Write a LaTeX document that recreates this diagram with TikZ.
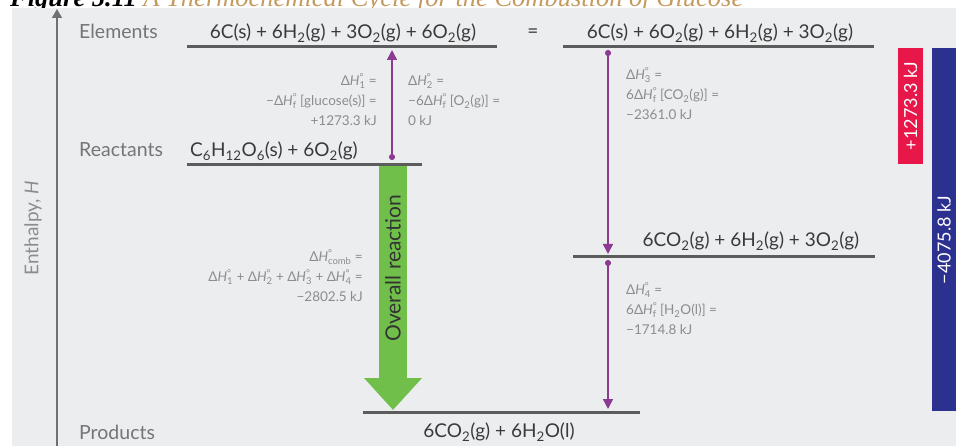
\documentclass[tikz,border=0pt]{standalone}
\usepackage{fontspec}
\setmainfont{Lato}
\newfontfamily\capfont{Liberation Serif}
\usetikzlibrary{arrows.meta,positioning}
\definecolor{panelgray}{HTML}{ECEDEF}
\definecolor{levelgray}{HTML}{5C5C5C}
\definecolor{axisgray}{HTML}{707070}
\definecolor{notegray}{HTML}{8C8C8C}
\definecolor{eqngray}{HTML}{3A3A3A}
\definecolor{steppurple}{HTML}{8C3A92}
\definecolor{overallgreen}{HTML}{70BF4A}
\definecolor{sumred}{HTML}{E8174A}
\definecolor{sumblue}{HTML}{2C3190}
\definecolor{captan}{HTML}{C49A5E}
\newcommand{\ssub}[1]{\textsubscript{#1}}
\newcommand{\dH}[1]{Δ\textit{H}\makebox[0pt][l]{\textsuperscript{°}}\textsubscript{#1}}

\begin{document}
\begin{tikzpicture}[x=1pt,y=-1pt,
  level/.style={draw=levelgray, line width=3pt},
  eqn/.style={font=\fontsize{19}{22}\selectfont, text=eqngray, inner sep=0pt},
  rowlabel/.style={font=\fontsize{19.5}{22}\selectfont, text=levelgray!85, anchor=west, inner sep=0pt},
  note/.style={font=\fontsize{13.5}{20}\selectfont, text=notegray, inner sep=0pt},
  stepline/.style={draw=steppurple, line width=1.6pt, {Circle[length=6pt]}-{Triangle[length=10pt,width=10pt]}},
  overall/.style={draw=overallgreen, line width=28pt, -{Triangle[length=32pt,width=56pt]}},
  sumtext/.style={font=\fontsize{18}{20}\selectfont, text=white, rotate=90, inner sep=0pt}]
\useasboundingbox (0,0) rectangle (956,446);
\clip (0,0) rectangle (956,446);
% caption, cut at the top
\node[anchor=base west, font=\capfont\fontsize{26.5}{28}\selectfont, inner sep=0pt] (caption) at (10,7)
  {\textbf{\textit{Figure 5.11}} \textcolor{captan}{\textit{A Thermochemical Cycle for the Combustion of Glucose}}};
\fill[panelgray] (12,8) rectangle (956,446);
% enthalpy axis
\coordinate (axis-foot) at (57,446);
\coordinate (axis-top) at (57,9);
\draw[axisgray, line width=1.5pt, -{Triangle[length=9pt,width=10pt]}] (axis-foot) -- (axis-top);
\node[font=\fontsize{19}{22}\selectfont, text=notegray, rotate=90] (axis-label) at (33,228) {Enthalpy, \textit{H}};
% row labels
\node[rowlabel] (lab-elem) at (79,31) {Elements};
\node[rowlabel] (lab-reac) at (79,150) {Reactants};
\node[rowlabel] (lab-prod) at (79,432) {Products};
% levels
\coordinate (elemA-w) at (187,47);  \coordinate (elemA-e) at (497,47);
\coordinate (elemB-w) at (563,47);  \coordinate (elemB-e) at (874,47);
\coordinate (reac-w) at (187,165);  \coordinate (reac-e) at (422,165);
\coordinate (mid-w) at (573,257);   \coordinate (mid-e) at (875,257);
\coordinate (prod-w) at (363,412);  \coordinate (prod-e) at (640,412);
\draw[level] (elemA-w) -- (elemA-e);
\draw[level] (elemB-w) -- (elemB-e);
\draw[level] (reac-w) -- (reac-e);
\draw[level] (mid-w) -- (mid-e);
\draw[level] (prod-w) -- (prod-e);
\node[eqn] (elemA) at (343,33) {6C(s) + 6H\ssub{2}(g) + 3O\ssub{2}(g) + 6O\ssub{2}(g)};
\node[eqn] (equal) at (533,33) {=};
\node[eqn] (elemB) at (720,33) {6C(s) + 6O\ssub{2}(g) + 6H\ssub{2}(g) + 3O\ssub{2}(g)};
\node[eqn, anchor=west] (reac) at (190,151) {C\ssub{6}H\ssub{12}O\ssub{6}(s) + 6O\ssub{2}(g)};
\node[eqn] (mid) at (751,241) {6CO\ssub{2}(g) + 6H\ssub{2}(g) + 3O\ssub{2}(g)};
\node[eqn] (prod) at (499,432) {6CO\ssub{2}(g) + 6H\ssub{2}O(l)};
% overall reaction
\coordinate (overall-top) at (393,166);
\coordinate (overall-tip) at (393,410);
\draw[overall] (overall-top) -- (overall-tip);
\node[font=\fontsize{21}{24}\selectfont, text=black!80, rotate=90] (overall-label) at (393,268) {Overall reaction};
% steps
\coordinate (step1-foot) at (392,160); \coordinate (step1-tip) at (392,50);
\coordinate (step3-foot) at (608,50);  \coordinate (step3-tip) at (608,254);
\coordinate (step4-foot) at (608,260); \coordinate (step4-tip) at (608,409);
\draw[stepline] (step1-foot) -- (step1-tip);
\draw[stepline] (step3-foot) -- (step3-tip);
\draw[stepline] (step4-foot) -- (step4-tip);
\node[note, anchor=east, align=right] (dH1) at (377,100)
  {\dH{1} =\\−\dH{f} [glucose(s)] =\\+1273.3 kJ};
\node[note, anchor=west, align=left] (dH2) at (408,100)
  {\dH{2} =\\−6\dH{f} [O\ssub{2}(g)] =\\0 kJ};
\node[note, anchor=west, align=left] (dH3) at (626,94)
  {\dH{3} =\\6\dH{f} [CO\ssub{2}(g)] =\\−2361.0 kJ};
\node[note, anchor=west, align=left] (dH4) at (626,309)
  {\dH{4} =\\6\dH{f} [H\ssub{2}O(l)] =\\−1714.8 kJ};
\node[note, anchor=east, align=right] (dHc) at (363,276)
  {\dH{comb} =\\\dH{1} + \dH{2} + \dH{3} + \dH{4} =\\−2802.5 kJ};
% sums
\fill[sumred] (898,48) rectangle (923,164);
\fill[sumblue] (932,48) rectangle (956,411);
\node[sumtext] (sum-red) at (910.5,106) {+1273.3 kJ};
\node[sumtext] (sum-blue) at (944,240) {−4075.8 kJ};
\end{tikzpicture}
\end{document}
